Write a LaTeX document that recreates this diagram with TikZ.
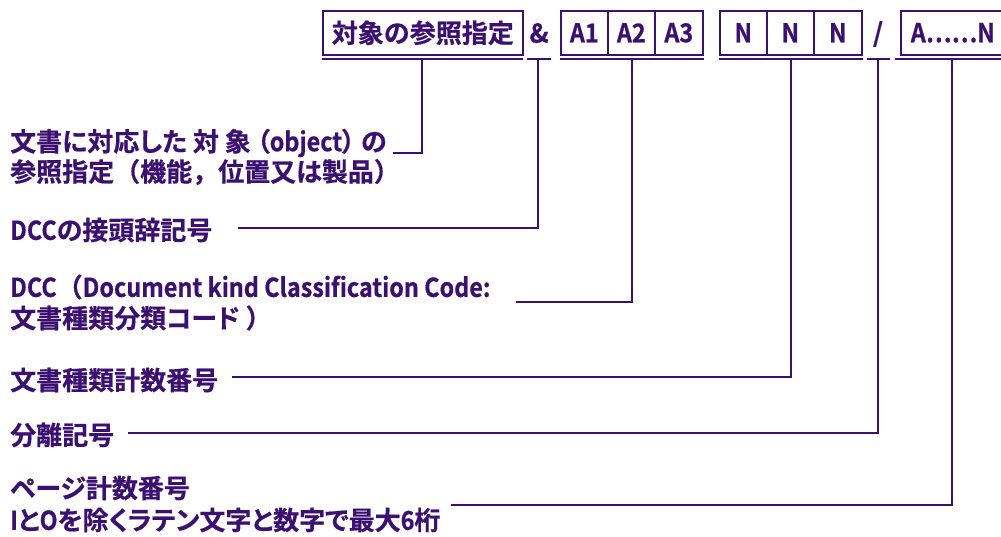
\documentclass[tikz,border=0pt]{standalone}
\usepackage{fontspec}
\newfontfamily\jp{Noto Sans CJK JP}[BoldFont=* Bold, BoldFeatures={FakeBold=0.6}, RawFeature=+palt]
\newfontfamily\jpw{Noto Sans CJK JP}[BoldFont=* Bold, BoldFeatures={FakeBold=0.6}]
\newfontfamily\jpl{Noto Sans CJK JP}[BoldFont=* Bold, BoldFeatures={FakeBold=0.6, FakeStretch=0.9}]
\newcommand\lt[1]{{\jpl\bfseries #1}}
\newcommand\pw[1]{{\jpw\bfseries #1}}
\definecolor{pp}{HTML}{3C1070}
\tikzset{
  cell/.style={draw=pp, line width=1.6pt, minimum height=44pt, inner sep=0pt, anchor=north west, text=pp, font=\jpw\bfseries\fontsize{26}{30}\selectfont},
  sym/.style={inner sep=0pt, text=pp, font=\jpw\bfseries\fontsize{26}{30}\selectfont},
  lab/.style={anchor=west, inner sep=0pt, text=pp, font=\jp\bfseries\fontsize{26}{28}\selectfont},
  wire/.style={draw=pp, line width=1.8pt}
}
\begin{document}
\begin{tikzpicture}[x=1pt,y=-1pt]
\useasboundingbox (0,0) rectangle (1001,536);
% code boxes
\node[cell, minimum width=200pt] (ref) at (322,10) {対象の参照指定};
\node[sym] (amp) at (539,33) {\&};
\node[cell, minimum width=47pt] (a1) at (560,10) {\lt{A1}};
\node[cell, minimum width=47pt] (a2) at (607,10) {\lt{A2}};
\node[cell, minimum width=48pt] (a3) at (654,10) {\lt{A3}};
\node[cell, minimum width=47pt] (n1) at (719,10) {\lt{N}};
\node[cell, minimum width=47pt] (n2) at (766,10) {\lt{N}};
\node[cell, minimum width=48pt] (n3) at (813,10) {\lt{N}};
\node[sym] (sl) at (878,34) {/};
\node[cell, minimum width=104pt] (pg) at (900,10) {\lt{A……N}};
% underlines
\draw[wire] (322,59) -- (523,59);
\draw[wire] (527,59) -- (551,59);
\draw[wire] (560,59) -- (704,59);
\draw[wire] (719,59) -- (863,59);
\draw[wire] (867,59) -- (890,59);
\draw[wire] (895,59) -- (1001,59);
\coordinate (u1) at (422,59);
\coordinate (u2) at (538,59);
\coordinate (u3) at (632,59);
\coordinate (u4) at (791,59);
\coordinate (u5) at (878,59);
\coordinate (u6) at (952,59);
% labels
\node[lab] (l1a) at (10,143) {文書に対応した 対 象 （\lt{object}） の};
\node[lab] (l1b) at (10,172) {参照指定\pw{（}機能\pw{，}位置又は製品\pw{）}};
\node[lab] (l2) at (10,230) {\lt{DCC}の接頭辞記号};
\node[lab] (l3a) at (10,287) {\lt{DCC}\pw{（}\lt{Document kind Classification Code:}};
\node[lab] (l3b) at (10,318) {文書種類分類コード \pw{）}};
\node[lab] (l4) at (10,380) {文書種類計数番号};
\node[lab] (l5) at (10,435) {分離記号};
\node[lab] (l6a) at (10,488) {ページ計数番号};
\node[lab] (l6b) at (10,520) {\lt{I}と\lt{O}を除くラテン文字と数字で最大\lt{6}桁};
% connector ends
\coordinate (e1) at (393,153);
\coordinate (e2) at (238,228);
\coordinate (e3) at (516,302);
\coordinate (e4) at (232,377);
\coordinate (e5) at (128,433);
\coordinate (e6) at (451,505);
\draw[wire] (u1) |- (e1);
\draw[wire] (u2) |- (e2);
\draw[wire] (u3) |- (e3);
\draw[wire] (u4) |- (e4);
\draw[wire] (u5) |- (e5);
\draw[wire] (u6) |- (e6);
\end{tikzpicture}
\end{document}
